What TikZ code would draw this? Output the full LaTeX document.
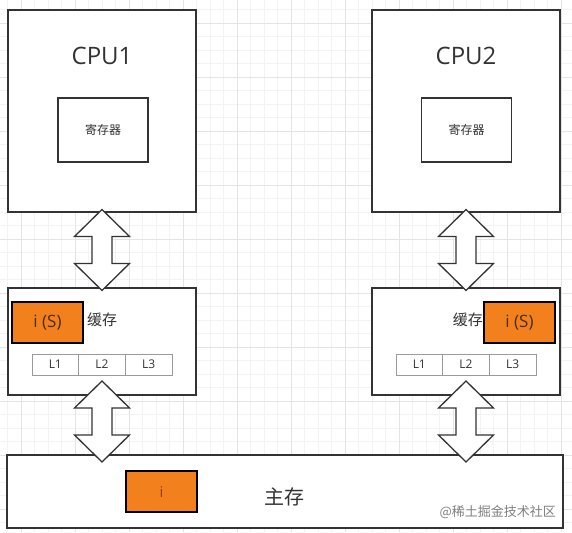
\documentclass[tikz,border=0pt]{standalone}
\usepackage{fontspec}
\setmainfont{Open Sans}
\newfontfamily\cjk{Noto Sans CJK SC}
\usetikzlibrary{positioning,calc}

\definecolor{ink}{HTML}{333333}
\definecolor{hot}{HTML}{F2811D}
\definecolor{hotink}{HTML}{4A2C14}
\definecolor{memink}{HTML}{9A3B12}
\definecolor{markink}{HTML}{808080}
\definecolor{gridfine}{HTML}{F3F3F3}
\definecolor{gridmain}{HTML}{E4E4E4}
\definecolor{lvlline}{HTML}{9A9A9A}

\begin{document}
\begin{tikzpicture}[x=1pt, y=1pt,
    every node/.style={text=ink, inner sep=0pt},
    unit/.style={draw=ink, line width=1.3pt, fill=white, minimum width=188pt, minimum height=#1},
    regbox/.style={draw=ink, line width=1.3pt, minimum width=90pt, minimum height=64pt,
      font={\cjk\fontsize{12}{14}\selectfont}},
    hotbox/.style={draw=black, line width=1.3pt, fill=hot, minimum width=71pt, minimum height=41pt,
      text=hotink, font={\fontsize{17}{20}\selectfont}},
    lvl/.style={draw=lvlline, line width=0.8pt, minimum width=46.7pt, minimum height=21pt,
      font={\fontsize{12}{14}\selectfont}},
    cn/.style={font={\cjk\fontsize{#1}{#1}\selectfont}},
    updown/.style={draw=ink, line width=1.3pt, fill=white, line join=miter}]
    \useasboundingbox (0,0) rectangle (572,532);
    \fill[white] (0,0) rectangle (572,532);
    % grid
    \foreach \i in {0,...,41} \draw[gridfine, line width=0.6pt] ({7.5+13.5*\i},0) -- ++(0,532);
    \foreach \j in {0,...,38} \draw[gridfine, line width=0.6pt] (0,{9.5+13.5*\j}) -- ++(572,0);
    \foreach \i in {0,...,10} \draw[gridmain, line width=0.6pt] ({21+54*\i},0) -- ++(0,532);
    \foreach \j in {0,...,9} \draw[gridmain, line width=0.6pt] (0,{23+54*\j}) -- ++(572,0);

    % cpus
    \node[unit=202pt] (cpuA) at (102,421) {};
    \node[unit=202pt] (cpuB) at (466,421) {};
    \node[font={\fontsize{24}{28}\selectfont}] (nameA) at ($(cpuA.north)+(0,-47)$) {CPU1};
    \node[font={\fontsize{24}{28}\selectfont}] (nameB) at ($(cpuB.north)+(0,-47)$) {CPU2};
    \node[regbox] (regA) at (103,402) {寄存器};
    \node[regbox] (regB) at (466.5,402) {寄存器};

    % caches
    \node[unit=107pt] (cacheA) at (102,190.5) {};
    \node[unit=107pt] (cacheB) at (466,190.5) {};
    \node[hotbox] (valA) at (47.5,209.5) {i (S)};
    \node[hotbox] (valB) at (519.5,209.5) {i (S)};
    \node[cn=15, anchor=west] (tagA) at (87,212.5) {缓存};
    \node[cn=15, anchor=east] (tagB) at (483,212.5) {缓存};
    \foreach \k/\t in {0/L1,1/L2,2/L3} {
      \node[lvl] (lvA\k) at ({55.3+46.7*\k},167.5) {\t};
      \node[lvl] (lvB\k) at ({419.3+46.7*\k},167.5) {\t};
    }

    % main memory
    \node[draw=ink, line width=1.3pt, fill=white, minimum width=556pt, minimum height=73pt] (mem) at (285,40.5) {};
    \node[hotbox, text=memink, font={\fontsize{15}{18}\selectfont}] (valM) at (161.5,40.5) {i};
    \node[cn=20] (memlbl) at (284,35) {主存};
    \node[cn=13, text=markink, anchor=east] (mark) at (556,20) {@稀土掘金技术社区};

    % links
    \foreach \a/\b/\d in {cpuA/cacheA/0, cpuB/cacheB/0, cacheA/mem/3.5, cacheB/mem/3.5} {
      \coordinate (mid) at ($(\a.south)!0.5!(\a.south |- \b.north)$);
      \draw[updown] ($(mid)+(0,40.5+\d)$) -- ++(27.5,-27) -- ++(-17.5,0) -- ++(0,-27) -- ++(17.5,0)
        -- ++(-27.5,-27) -- ++(-27.5,27) -- ++(17.5,0) -- ++(0,27) -- ++(-17.5,0) -- cycle;
    }
  \end{tikzpicture}
\end{document}
